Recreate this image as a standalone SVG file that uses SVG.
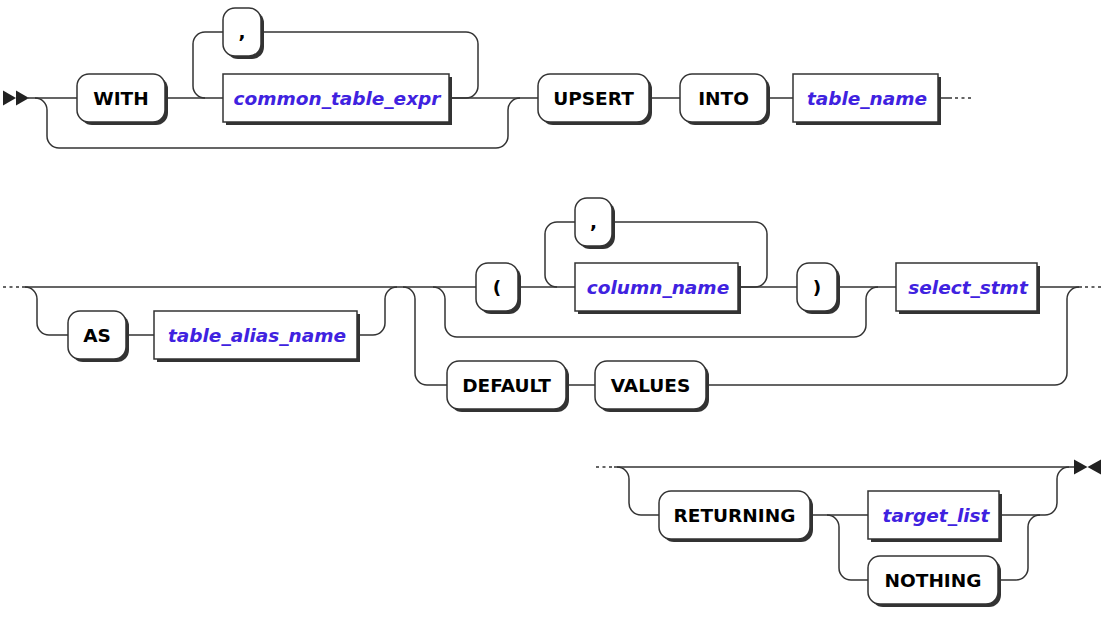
<svg xmlns="http://www.w3.org/2000/svg" width="1110" height="622" viewBox="0 0 1110 622">
<style>
.ln{fill:none;stroke:#333;stroke-width:1.5}
.dot{fill:none;stroke:#333;stroke-width:1.5;stroke-dasharray:3 3.5}
.box{fill:#fff;stroke:#333;stroke-width:1.5}
.sh{fill:#333}
.mk{fill:#222}
.t{font-family:"DejaVu Sans",Verdana,sans-serif;font-weight:bold;font-size:18.5px;fill:#000;text-anchor:middle}
.n{font-family:"DejaVu Sans",Verdana,sans-serif;font-weight:bold;font-style:italic;font-size:18.5px;fill:#3f22e0;text-anchor:middle}
</style>
<g id="connectors">
<polygon class="mk" points="3,90.5 16,98 3,105.5"/>
<polygon class="mk" points="16,90.5 29,98 16,105.5"/>
<path class="ln" d="M28 98 H77 M165 98 H223 M449 98 H538 M649 98 H680 M767 98 H793 M938 98 H952"/>
<path class="dot" d="M955 98 H973"/>
<path class="ln" d="M223 32 H205 A12 12 0 0 0 193 44 V86 A12 12 0 0 0 205 98"/>
<path class="ln" d="M449 98 H466 A12 12 0 0 0 478 86 V44 A12 12 0 0 0 466 32 H261"/>
<path class="ln" d="M35 98 A12 12 0 0 1 47 110 V136 A12 12 0 0 0 59 148 H496 A12 12 0 0 0 508 136 V110 A12 12 0 0 1 520 98"/>
<path class="dot" d="M3 287 H22"/>
<path class="ln" d="M22 287 H476 M518 287 H575 M738 287 H797 M837 287 H896 M1037 287 H1082"/>
<path class="dot" d="M1085 287 H1102"/>
<path class="ln" d="M25 287 A12 12 0 0 1 37 299 V323 A12 12 0 0 0 49 335 H68 M126 335 H154 M357 335 H373 A12 12 0 0 0 385 323 V299 A12 12 0 0 1 397 287"/>
<path class="ln" d="M403 287 A12 12 0 0 1 415 299 V373 A12 12 0 0 0 427 385 H447 M566 385 H595 M706 385 H1055 A12 12 0 0 0 1067 373 V299 A12 12 0 0 1 1079 287"/>
<path class="ln" d="M433 287 A12 12 0 0 1 445 299 V325 A12 12 0 0 0 457 337 H854 A12 12 0 0 0 866 325 V299 A12 12 0 0 1 878 287"/>
<path class="ln" d="M575 222 H557 A12 12 0 0 0 545 234 V275 A12 12 0 0 0 557 287"/>
<path class="ln" d="M738 287 H755 A12 12 0 0 0 767 275 V234 A12 12 0 0 0 755 222 H612"/>
<path class="dot" d="M596 467 H614"/>
<path class="ln" d="M614 467 H1075"/>
<path class="ln" d="M617 467 A12 12 0 0 1 629 479 V503 A12 12 0 0 0 641 515 H659 M810 515 H868 M999 515 H1045 A12 12 0 0 0 1057 503 V479 A12 12 0 0 1 1069 467"/>
<path class="ln" d="M827 515 A12 12 0 0 1 839 527 V568 A12 12 0 0 0 851 580 H868 M998 580 H1016 A12 12 0 0 0 1028 568 V527 A12 12 0 0 1 1040 515"/>
<polygon class="mk" points="1074,459.5 1087.5,467 1074,474.5"/>
<polygon class="mk" points="1101,459.5 1087.5,467 1101,474.5"/>
</g>
<g id="n-with"><rect class="sh" x="80" y="77" width="88" height="48" rx="12"/><rect class="box" x="77" y="74" width="88" height="48" rx="12"/><text class="t" x="121" y="104.5">WITH</text></g>
<g id="n-comma1"><rect class="sh" x="226" y="11" width="38" height="48" rx="12"/><rect class="box" x="223" y="8" width="38" height="48" rx="12"/><text class="t" x="242" y="38">,</text></g>
<g id="n-cte"><rect class="sh" x="226" y="77" width="226" height="48"/><rect class="box" x="223" y="74" width="226" height="48"/><text class="n" x="337" y="104.5">common_table_expr</text></g>
<g id="n-upsert"><rect class="sh" x="541" y="77" width="111" height="48" rx="12"/><rect class="box" x="538" y="74" width="111" height="48" rx="12"/><text class="t" x="593.5" y="104.5">UPSERT</text></g>
<g id="n-into"><rect class="sh" x="683" y="77" width="87" height="48" rx="12"/><rect class="box" x="680" y="74" width="87" height="48" rx="12"/><text class="t" x="723.5" y="104.5">INTO</text></g>
<g id="n-table_name"><rect class="sh" x="796" y="77" width="145" height="48"/><rect class="box" x="793" y="74" width="145" height="48"/><text class="n" x="867" y="104.5">table_name</text></g>
<g id="n-as"><rect class="sh" x="71" y="314" width="58" height="48" rx="12"/><rect class="box" x="68" y="311" width="58" height="48" rx="12"/><text class="t" x="97" y="341.5">AS</text></g>
<g id="n-alias"><rect class="sh" x="157" y="314" width="203" height="48"/><rect class="box" x="154" y="311" width="203" height="48"/><text class="n" x="257" y="341.5">table_alias_name</text></g>
<g id="n-lparen"><rect class="sh" x="479" y="266" width="42" height="48" rx="12"/><rect class="box" x="476" y="263" width="42" height="48" rx="12"/><text class="t" x="497" y="293.5">(</text></g>
<g id="n-comma2"><rect class="sh" x="578" y="201" width="37" height="48" rx="12"/><rect class="box" x="575" y="198" width="37" height="48" rx="12"/><text class="t" x="593.5" y="228">,</text></g>
<g id="n-column_name"><rect class="sh" x="578" y="266" width="163" height="48"/><rect class="box" x="575" y="263" width="163" height="48"/><text class="n" x="658" y="293.5">column_name</text></g>
<g id="n-rparen"><rect class="sh" x="800" y="266" width="40" height="48" rx="12"/><rect class="box" x="797" y="263" width="40" height="48" rx="12"/><text class="t" x="817" y="293.5">)</text></g>
<g id="n-select_stmt"><rect class="sh" x="899" y="266" width="141" height="48"/><rect class="box" x="896" y="263" width="141" height="48"/><text class="n" x="968" y="293.5">select_stmt</text></g>
<g id="n-default"><rect class="sh" x="450" y="364" width="119" height="48" rx="12"/><rect class="box" x="447" y="361" width="119" height="48" rx="12"/><text class="t" x="506.5" y="391.5">DEFAULT</text></g>
<g id="n-values"><rect class="sh" x="598" y="364" width="111" height="48" rx="12"/><rect class="box" x="595" y="361" width="111" height="48" rx="12"/><text class="t" x="650.5" y="391.5">VALUES</text></g>
<g id="n-returning"><rect class="sh" x="662" y="494" width="151" height="48" rx="12"/><rect class="box" x="659" y="491" width="151" height="48" rx="12"/><text class="t" x="734.5" y="521.5">RETURNING</text></g>
<g id="n-target_list"><rect class="sh" x="871" y="494" width="131" height="48"/><rect class="box" x="868" y="491" width="131" height="48"/><text class="n" x="936" y="521.5">target_list</text></g>
<g id="n-nothing"><rect class="sh" x="871" y="559" width="130" height="48" rx="12"/><rect class="box" x="868" y="556" width="130" height="48" rx="12"/><text class="t" x="933" y="586.5">NOTHING</text></g>
</svg>
